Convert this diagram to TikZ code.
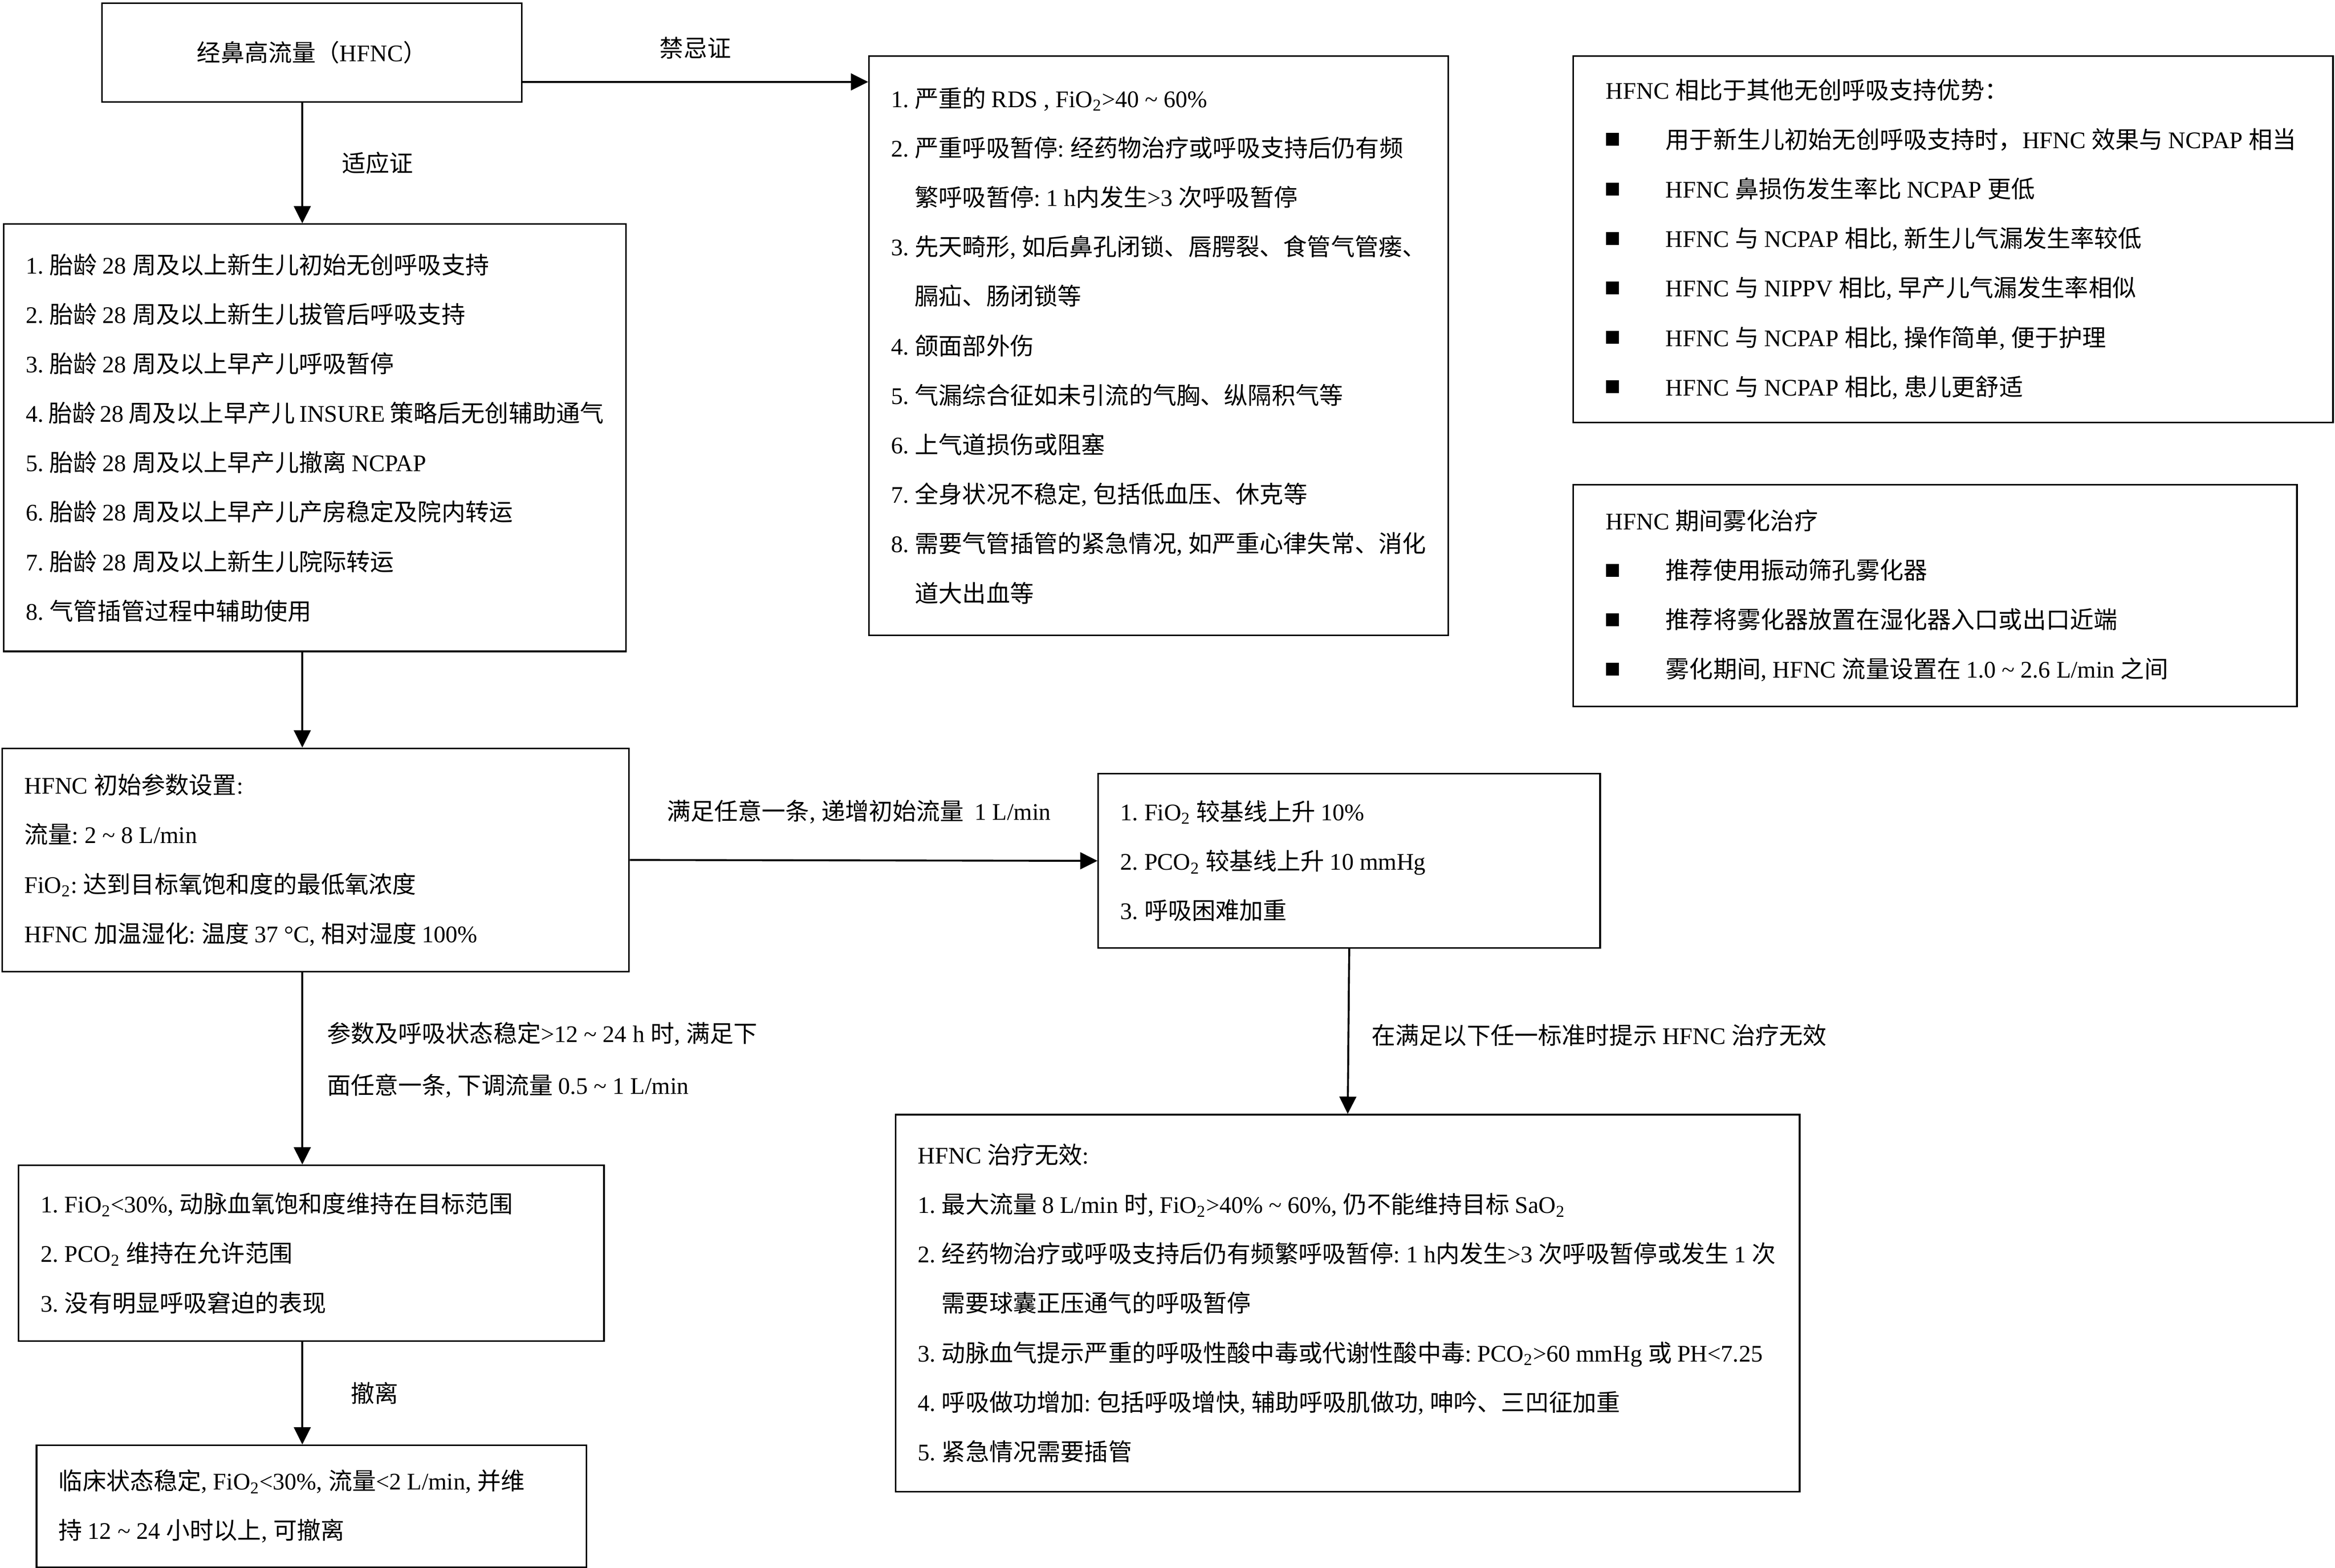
\documentclass[tikz,border=0pt]{standalone}
\usepackage{fontspec}
\setmainfont{Liberation Serif}
\newfontfamily\zhfont{Noto Sans CJK SC}
\usetikzlibrary{arrows.meta}

% Chinese characters switch to the CJK font, Latin text stays in the serif
\newcount\zhcnt
\ifdefined\newXeTeXintercharclass
  \newXeTeXintercharclass\zhclass
\else
  \chardef\zhclass=200
\fi
\def\zhrange#1#2{\zhcnt=#1\relax
  \loop\XeTeXcharclass\zhcnt=\zhclass\relax
    \advance\zhcnt by 1\relax
  \ifnum\zhcnt<#2\relax\repeat}
\zhrange{"3000}{"3040}
\zhrange{"4E00}{"A000}
\zhrange{"FF00}{"FFF0}
\XeTeXinterchartoks 0 \zhclass = {\zhfont}
\XeTeXinterchartoks 4095 \zhclass = {\zhfont}
\XeTeXinterchartoks \zhclass 0 = {\rmfamily}
\XeTeXinterchartoks 4095 0 = {\rmfamily}

\newcommand\zhtext{\XeTeXinterchartokenstate=1 \frenchspacing
  \hyphenpenalty=10000 \exhyphenpenalty=10000
  \fontsize{13.7}{28.5}\selectfont}
\newcommand\rng{\ \textasciitilde\ }
\newcommand\sqb{\makebox[1.21cm][l]{\rule[0.05cm]{0.26cm}{0.26cm}}}

\tikzset{
  startbox/.style={draw, line width=0.9pt, anchor=north west, align=center,
    minimum width=8.5cm, minimum height=2.0cm, font=\zhtext},
  listbox/.style 2 args={draw, line width=0.9pt, anchor=north west, align=flush left,
    inner xsep=0.45cm, inner ysep=0pt, text width=#1, minimum height=#2, font=\zhtext},
  flow/.style={-{Triangle[length=0.35cm, width=0.34cm]}, line width=1.1pt},
  cond/.style={inner sep=0pt, align=left, font=\zhtext}
}

\begin{document}
\begin{tikzpicture}[x={(0.3015mm,0mm)}, y={(0mm,-0.3015mm)}]
  \useasboundingbox (0,0) rectangle (1568,1052.7);
  \coordinate (spine) at (203,0);
  \coordinate (toprow) at (0,55);

  % Start
  \node[startbox] (hfnc) at (68,1.5) {经鼻高流量（HFNC）};

  % Indications
  \node[listbox={11.70cm}{8.65cm}] (indic) at (2,150) {
    1. 胎龄 28 周及以上新生儿初始无创呼吸支持\\
    2. 胎龄 28 周及以上新生儿拔管后呼吸支持\\
    3. 胎龄 28 周及以上早产儿呼吸暂停\\
    4.~胎龄~28~周及以上早产儿~INSURE~策略后无创辅助通气\\
    5. 胎龄 28 周及以上早产儿撤离 NCPAP\\
    6. 胎龄 28 周及以上早产儿产房稳定及院内转运\\
    7. 胎龄 28 周及以上新生儿院际转运\\
    8. 气管插管过程中辅助使用
  };

  % Contraindications
  \node[listbox={10.83cm}{11.73cm}] (contra) at (583,37) {
    1. 严重的 RDS , FiO\textsubscript{2}>40\rng 60\%\\
    2. 严重呼吸暂停: 经药物治疗或呼吸支持后仍有频\\
    \hspace*{0.48cm}繁呼吸暂停: 1 h内发生>3 次呼吸暂停\\
    3.~先天畸形,~如后鼻孔闭锁、唇腭裂、食管气管瘘、\\
    \hspace*{0.48cm}膈疝、肠闭锁等\\
    4. 颌面部外伤\\
    5. 气漏综合征如未引流的气胸、纵隔积气等\\
    6. 上气道损伤或阻塞\\
    7. 全身状况不稳定, 包括低血压、休克等\\
    8.~需要气管插管的紧急情况,~如严重心律失常、消化\\
    \hspace*{0.48cm}道大出血等
  };

  % Advantages and nebulisation
  \node[listbox={14.06cm}{7.42cm}, inner xsep=0.66cm] (adv) at (1056,37) {
    HFNC 相比于其他无创呼吸支持优势：\\
    \sqb 用于新生儿初始无创呼吸支持时，HFNC~效果与~NCPAP~相当\\
    \sqb HFNC 鼻损伤发生率比 NCPAP 更低\\
    \sqb HFNC 与 NCPAP 相比, 新生儿气漏发生率较低\\
    \sqb HFNC 与 NIPPV 相比, 早产儿气漏发生率相似\\
    \sqb HFNC 与 NCPAP 相比, 操作简单, 便于护理\\
    \sqb HFNC 与 NCPAP 相比, 患儿更舒适
  };

  \node[listbox={13.33cm}{4.49cm}, inner xsep=0.66cm] (neb) at (1056,325) {
    HFNC 期间雾化治疗\\
    \sqb 推荐使用振动筛孔雾化器\\
    \sqb 推荐将雾化器放置在湿化器入口或出口近端\\
    \sqb 雾化期间, HFNC 流量设置在 1.0\rng 2.6 L/min 之间
  };

  % Initial settings
  \node[listbox={11.79cm}{4.52cm}] (init) at (1,502) {
    HFNC 初始参数设置:\\
    流量: 2\rng 8 L/min\\
    FiO\textsubscript{2}: 达到目标氧饱和度的最低氧浓度\\
    HFNC 加温湿化: 温度 37 °C, 相对湿度 100\%
  };

  % Escalation and failure
  \node[listbox={9.26cm}{3.53cm}] (raise) at (737,519) {
    1. FiO\textsubscript{2} 较基线上升 10\%\\
    2. PCO\textsubscript{2} 较基线上升 10 mmHg\\
    3. 呼吸困难加重
  };

  \node[listbox={17.40cm}{7.63cm}] (fail) at (601,748) {
    HFNC 治疗无效:\\
    1.~最大流量~8~L/min~时,~FiO\textsubscript{2}>40\%\rng 60\%,~仍不能维持目标~SaO\textsubscript{2}\\
    2.~经药物治疗或呼吸支持后仍有频繁呼吸暂停:~1~h内发生>3~次呼吸暂停或发生~1~次\\
    \hspace*{0.48cm}需要球囊正压通气的呼吸暂停\\
    3.~动脉血气提示严重的呼吸性酸中毒或代谢性酸中毒:~PCO\textsubscript{2}>60~mmHg~或~PH<7.25\\
    4. 呼吸做功增加: 包括呼吸增快, 辅助呼吸肌做功, 呻吟、三凹征加重\\
    5. 紧急情况需要插管
  };

  % Weaning
  \node[listbox={10.95cm}{3.56cm}] (wean) at (12,782) {
    1. FiO\textsubscript{2}<30\%, 动脉血氧饱和度维持在目标范围\\
    2. PCO\textsubscript{2} 维持在允许范围\\
    3. 没有明显呼吸窘迫的表现
  };

  \node[listbox={10.23cm}{2.47cm}] (stop) at (24,970) {
    临床状态稳定, FiO\textsubscript{2}<30\%, 流量<2 L/min, 并维\\
    持 12\rng 24 小时以上, 可撤离
  };

  % Connectors
  \draw[flow] (hfnc.south -| spine) -- node[cond, right=0.78cm] {适应证} (indic.north -| spine);
  \draw[flow] (hfnc.east |- toprow) -- node[cond, above=0.45cm] {禁忌证} (contra.west |- toprow);
  \draw[flow] (indic.south -| spine) -- (init.north -| spine);
  \draw[flow] (init.east) -- node[cond, above=0.72cm, xshift=-0.1cm] {满足任意一条, 递增初始流量\ \ 1 L/min} (raise.west);
  \draw[flow] (raise.south) -- node[cond, right=0.45cm, yshift=-0.08cm] {在满足以下任一标准时提示 HFNC 治疗无效} (fail.north);
  \draw[flow] (init.south -| spine) -- node[cond, right=0.48cm, yshift=0.17cm] {参数及呼吸状态稳定>12\rng 24 h 时, 满足下\\[1.5pt]面任意一条, 下调流量 0.5\rng 1 L/min} (wean.north -| spine);
  \draw[flow] (wean.south -| spine) -- node[cond, right=0.96cm] {撤离} (stop.north -| spine);
\end{tikzpicture}
\end{document}
